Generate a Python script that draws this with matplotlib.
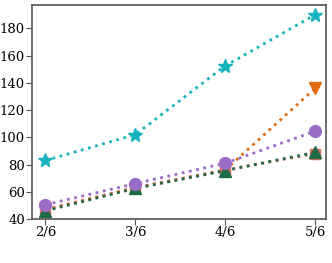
import matplotlib
matplotlib.use("Agg")
import matplotlib.pyplot as plt

x_labels = ["2/6", "3/6", "4/6", "5/6"]
x_vals = [2/6, 3/6, 4/6, 5/6]
star = [83, 102, 152.5, 190]
down_tri = [47, 63, 76, 136]
square = [47, 63, 76, 88]
up_tri = [46, 62.5, 75.5, 89]
circle = [50.5, 66, 81, 104.5]

plt.rcParams['font.family'] = ['DejaVu Serif']
fig = plt.figure(figsize=(3.32, 2.63), dpi=100)
ax = fig.add_axes([32/332, 44/263, 294/332, 214.5/263])

ax.plot(x_vals, star, ':', color='#17b3be', marker='*', markersize=10, lw=2)
ax.plot(x_vals, down_tri, ':', color='#e06a10', marker='v', markersize=8, lw=2)
ax.plot(x_vals, square, ':', color='#e07060', marker='s', markersize=7, lw=2)
ax.plot(x_vals, up_tri, ':', color='#1f6b45', marker='^', markersize=8, lw=2)
ax.plot(x_vals, circle, ':', color='#9a6cc8', marker='o', markersize=8.5, lw=2)

ax.set_xticks(x_vals)
ax.set_xticklabels(x_labels)
ax.set_xlim(2/6 - 0.025, 5/6 + 0.02)
ax.set_ylim(40, 197.5)
ax.set_yticks([40, 60, 80, 100, 120, 140, 160, 180])
ax.tick_params(labelsize=9.5, length=4, pad=1, color='#555555')
for s in ax.spines.values():
    s.set_color('#555555')
    s.set_linewidth(1.2)

fig.savefig("out.png", dpi=100)
